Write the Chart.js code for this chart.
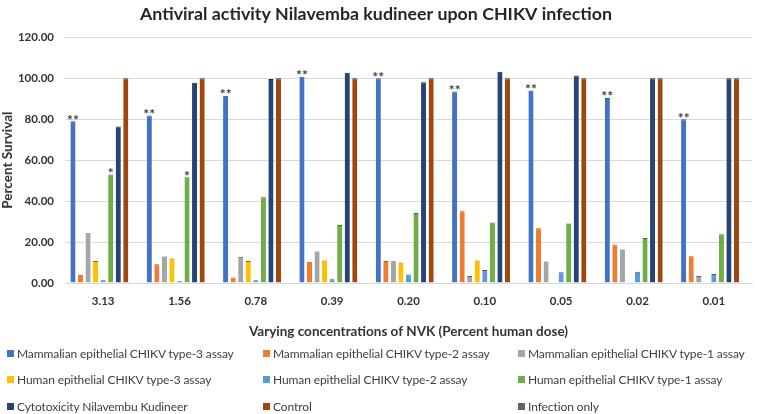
<!DOCTYPE html>
<html>
<head>
<meta charset="utf-8">
<script src="https://cdn.jsdelivr.net/npm/chart.js@4.4.1/dist/chart.umd.min.js"></script>
<style>
  html, body { margin: 0; padding: 0; background: #fff; }
  #wrap { position: relative; width: 757px; height: 414px; overflow: hidden; }
  #c { position: absolute; left: 0; top: 0; }
  #legend { position: absolute; left: 7px; top: 340px; width: 750px;
    display: grid; grid-template-columns: 256px 255px 240px; grid-auto-rows: 26.5px;
    font-family: Lato, "Open Sans", sans-serif; font-size: 12px; letter-spacing: -0.1px; color: #404040; }
  #legend .it { display: flex; align-items: center; white-space: nowrap; }
  #legend .sw { width: 7px; height: 7px; margin-right: 3px; flex: none; }
</style>
</head>
<body>
<div id="wrap">
  <canvas id="c" width="757" height="414"></canvas>
  <div id="legend"></div>
</div>
<script>
const categories = ['3.13', '1.56', '0.78', '0.39', '0.20', '0.10', '0.05', '0.02', '0.01'];

const mammalianType3 = [79.0, 81.8, 91.5, 100.8, 100.0, 93.5, 94.0, 90.4, 80.0];
const mammalianType2 = [4.0, 9.2, 2.7, 10.4, 10.7, 35.0, 26.7, 18.8, 13.1];
const mammalianType1 = [24.3, 13.0, 12.8, 15.4, 10.6, 3.4, 10.5, 16.4, 3.4];
const humanType3 = [10.8, 12.0, 10.7, 11.0, 10.0, 11.0, 0.4, 0.4, 0.0];
const humanType2 = [1.3, 0.8, 1.4, 1.8, 4.2, 6.3, 5.2, 5.5, 4.4];
const humanType1 = [53.0, 51.7, 41.9, 28.3, 34.2, 29.6, 29.1, 22.0, 23.8];
const cytotoxicity = [76.4, 97.8, 99.6, 102.7, 98.1, 103.2, 101.4, 100.0, 100.0];
const control = [100, 100, 100, 100, 100, 100, 100, 100, 100];
const infectionOnly = [0, 0, 0, 0, 0, 0, 0, 0, 0];

const starsMammalianType3 = ['**', '**', '**', '**', '**', '**', '**', '**', '**'];
const starsHumanType1 = ['*', '*', '', '', '', '', '', '', ''];

const yTicks = [0, 20, 40, 60, 80, 100, 120];

const seriesNames = [
  'Mammalian epithelial CHIKV type-3 assay',
  'Mammalian epithelial CHIKV type-2 assay',
  'Mammalian epithelial CHIKV type-1 assay',
  'Human epithelial CHIKV type-3 assay',
  'Human epithelial CHIKV type-2 assay',
  'Human epithelial CHIKV type-1 assay',
  'Cytotoxicity Nilavembu Kudineer',
  'Control',
  'Infection only'
];
const seriesData = [mammalianType3, mammalianType2, mammalianType1, humanType3, humanType2, humanType1, cytotoxicity, control, infectionOnly];
const colors = ['#4472C4', '#ED7D31', '#A5A5A5', '#FFC000', '#5B9BD5', '#70AD47', '#264478', '#9E480E', '#636363'];
const capColors = ['#2f4f8a', '#a85520', '#5a5a5a', '#8a6a00', '#2f5f8a', '#3f6f28', '#16284a', '#5a2808', '#333333'];

const FONT = 'Lato, "Open Sans", sans-serif';

const datasets = seriesNames.map((name, i) => ({
  label: name,
  data: seriesData[i],
  backgroundColor: colors[i],
  borderColor: capColors[i],
  borderWidth: { top: 1, left: 0, right: 0, bottom: 0 },
  borderSkipped: 'start',
  categoryPercentage: 0.89,
  barPercentage: 0.68
}));

const starsPlugin = {
  id: 'stars',
  afterDatasetsDraw(chart) {
    const ctx = chart.ctx;
    ctx.save();
    ctx.fillStyle = '#404040';
    ctx.font = 'bold 14px ' + FONT;
    ctx.textAlign = 'center';
    ctx.textBaseline = 'bottom';
    const pairs = [[0, starsMammalianType3], [5, starsHumanType1]];
    pairs.forEach(([di, stars]) => {
      const meta = chart.getDatasetMeta(di);
      meta.data.forEach((bar, j) => {
        if (stars[j]) ctx.fillText(stars[j], bar.x, bar.y + 6);
      });
    });
    ctx.restore();
  }
};

const chart = new Chart(document.getElementById('c'), {
  type: 'bar',
  data: { labels: categories, datasets },
  plugins: [starsPlugin],
  options: {
    responsive: false,
    animation: false,
    layout: { padding: { left: 0, right: 5, top: 0, bottom: 74 } },
    plugins: {
      legend: { display: false },
      tooltip: { enabled: false },
      title: {
        display: true,
        text: 'Antiviral activity Nilavemba kudineer upon CHIKV infection',
        color: '#262626',
        font: { family: FONT, size: 17.8, weight: 'bold' },
        padding: { top: 4, bottom: 12 }
      }
    },
    scales: {
      x: {
        grid: { display: false, drawTicks: false },
        border: { display: true, color: '#d9d9d9', width: 1 },
        ticks: { color: '#333333', font: { family: FONT, size: 11.5, weight: 'bold' }, padding: 11 },
        title: {
          display: true,
          text: 'Varying concentrations of NVK (Percent human dose)',
          color: '#333333',
          font: { family: FONT, size: 13.5, weight: 'bold' },
          padding: { top: 5, bottom: 0 }
        }
      },
      y: {
        min: 0, max: 120,
        afterBuildTicks(scale) { scale.ticks = yTicks.map(v => ({ value: v })); },
        afterFit(scale) { scale.width = 65; },
        grid: { color: '#d9d9d9', drawTicks: false },
        border: { display: false },
        ticks: {
          color: '#333333',
          font: { family: FONT, size: 11.5, weight: 'bold' },
          padding: 11,
          callback: v => Number(v).toFixed(2)
        },
        title: {
          display: true,
          text: 'Percent Survival',
          color: '#333333',
          font: { family: FONT, size: 13.5, weight: 'bold' },
          padding: { top: 0, bottom: 2 }
        }
      }
    }
  }
});

const legendEl = document.getElementById('legend');
seriesNames.forEach((name, i) => {
  const it = document.createElement('div');
  it.className = 'it';
  const sw = document.createElement('span');
  sw.className = 'sw';
  sw.style.background = colors[i];
  const tx = document.createElement('span');
  tx.textContent = name;
  it.appendChild(sw);
  it.appendChild(tx);
  legendEl.appendChild(it);
});
</script>
</body>
</html>
